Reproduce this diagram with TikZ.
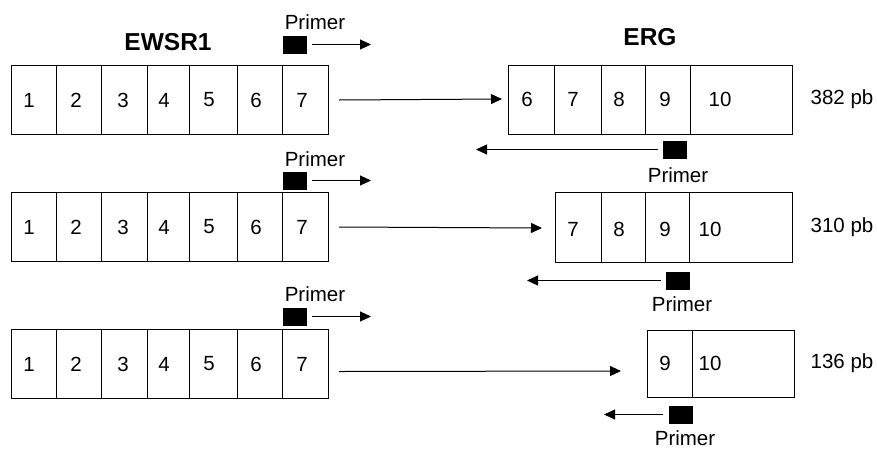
\documentclass[tikz,border=0pt]{standalone}
\usepackage{fontspec}
\setmainfont{Liberation Sans}
\usetikzlibrary{arrows.meta}
\begin{document}
\begin{tikzpicture}[x=1pt,y=-1pt,
  exon/.style={draw, line width=1pt, inner sep=0pt, anchor=north west, rectangle},
  lbl/.style={inner sep=0pt, font=\fontsize{20.5}{22}\selectfont},
  ttl/.style={inner sep=0pt, font=\fontsize{24.5}{26}\selectfont\bfseries},
  primer/.style={fill=black, draw=none, inner sep=0pt, minimum width=24pt, minimum height=18pt},
  conn/.style={line width=1pt, -{Triangle[length=11pt,width=10pt]}}]
\useasboundingbox (0,0) rectangle (877,448);
% EWSR1 rows
\foreach \r/\tp in {1/65, 2/192, 3/329}{
  \foreach \n/\l/\rr/\t in {1/11/56/29, 2/56/101/76, 3/101/147/123, 4/147/189/164, 5/189/237/209, 6/237/282/256, 7/282/328/302}{
    \pgfmathsetmacro\w{\rr-\l}
    \node[exon, minimum width=\w pt, minimum height=69pt] (w\r-\n) at (\l,\tp) {};
    \node[lbl] (wt\r-\n) at (\t,\tp+35) {\n};
  }
}
% ERG row 1
\foreach \n/\l/\rr/\t in {6/508/554/527, 7/554/601/573, 8/601/645/619, 9/645/690/665, 10/690/792/720}{
  \pgfmathsetmacro\w{\rr-\l}
  \node[exon, minimum width=\w pt, minimum height=69pt] (g1-\n) at (\l,65) {};
  \node[lbl] (gt1-\n) at (\t,99.5) {\n};
}
% ERG row 2
\foreach \n/\l/\rr/\t in {7/555/601/573, 8/601/645/619, 9/645/689/665, 10/689/792/710}{
  \pgfmathsetmacro\w{\rr-\l}
  \node[exon, minimum width=\w pt, minimum height=70pt] (g2-\n) at (\l,192) {};
  \node[lbl] (gt2-\n) at (\t,229) {\n};
}
% ERG row 3
\foreach \n/\l/\rr/\t in {9/647/692/665, 10/692/794/710}{
  \pgfmathsetmacro\w{\rr-\l}
  \node[exon, minimum width=\w pt, minimum height=67pt] (g3-\n) at (\l,330) {};
  \node[lbl] (gt3-\n) at (\t,363.5) {\n};
}
% titles
\node[ttl] (tE) at (168,42) {EWSR1};
\node[ttl] (tG) at (650,37) {ERG};
% sizes
\node[lbl] (s1) at (842,99) {382 pb};
\node[lbl] (s2) at (842,227) {310 pb};
\node[lbl] (s3) at (842,363) {136 pb};
% forward primers
\foreach \r/\y/\ty in {1/44.5/22, 2/180.5/159, 3/316.5/294}{
  \node[primer] (fp\r) at (295,\y) {};
  \node[lbl] (fpt\r) at (315,\ty) {Primer};
  \coordinate (fa\r) at (371,\y);
  \draw[conn] ([xshift=5pt]fp\r.east) -- (fa\r);
}
% reverse primers
\node[primer] (rp1) at (675,149.5) {};
\node[primer] (rp2) at (678,280.5) {};
\node[primer] (rp3) at (680.5,414.5) {};
\node[lbl] (rpt1) at (678,175) {Primer};
\node[lbl] (rpt2) at (682,304) {Primer};
\node[lbl] (rpt3) at (685,438) {Primer};
\coordinate (ra1) at (476,149.5);
\coordinate (ra2) at (527,280.5);
\coordinate (ra3) at (604,414.5);
\foreach \r in {1,2,3}{
  \draw[conn] ([xshift=-5pt]rp\r.west) -- (ra\r);
}
% fusion connectors
\coordinate (m1) at (502,99);
\coordinate (m2) at (542,228);
\coordinate (m3) at (621,371);
\draw[conn] ([xshift=10pt]w1-7.east) -- (m1);
\draw[conn] ([xshift=10pt]w2-7.east) -- (m2);
\draw[conn] ([xshift=10pt,yshift=-7.5pt]w3-7.east) -- (m3);
\end{tikzpicture}
\end{document}
